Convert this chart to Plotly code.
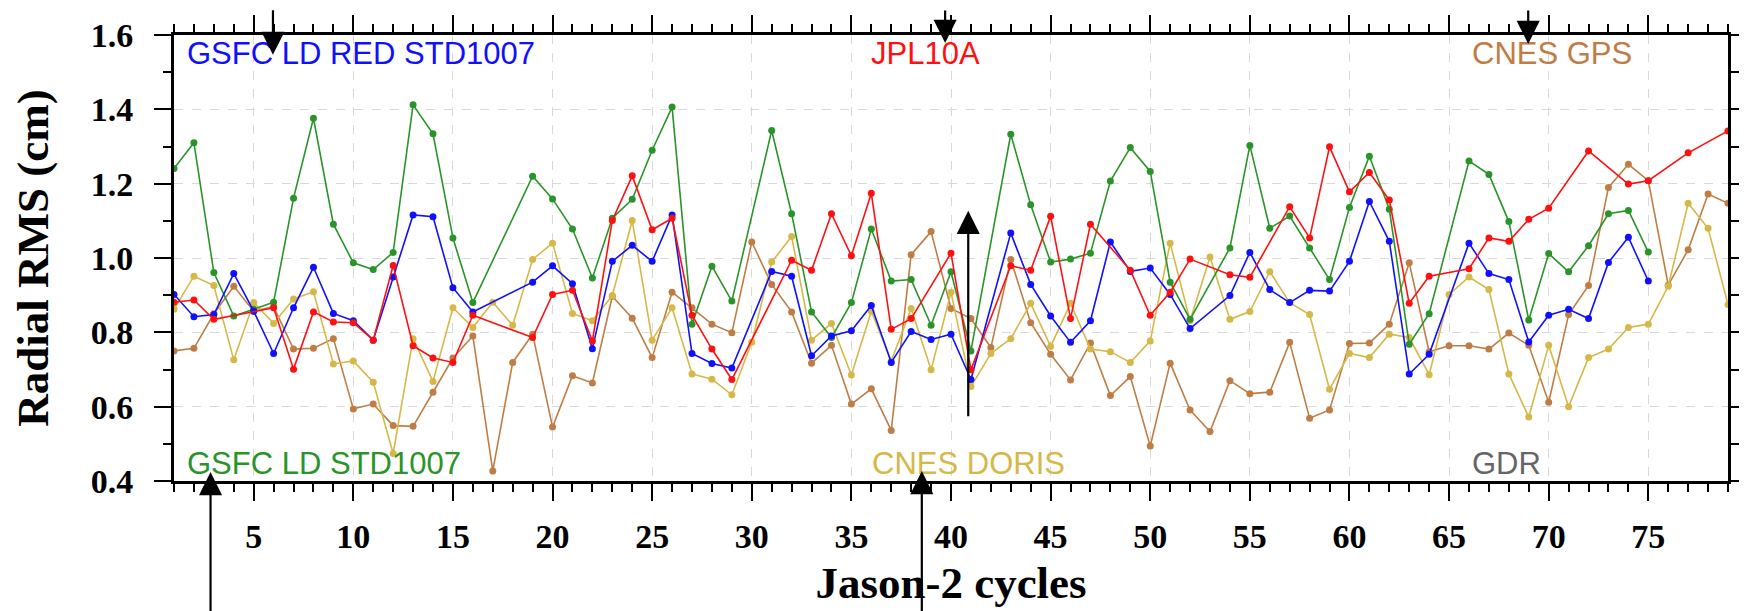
import plotly.graph_objects as go

cycles = list(range(1, 80))

# GSFC LD STD1007 (green)
gsfc_ld = [1.241, 1.310, 0.961, 0.844, 0.862, 0.881, 1.161, 1.376, 1.091, 0.987,
           0.969, 1.015, 1.412, 1.334, 1.054, 0.880, None, None, 1.220, 1.159,
           1.078, 0.946, 1.107, 1.158, 1.290, 1.406, 0.822, 0.978, 0.884, None,
           1.343, 1.119, 0.855, 0.786, 0.880, 1.078, 0.938, 0.942, 0.819, 0.963,
           0.750, None, 1.333, 1.143, 0.989, 0.997, 1.013, 1.207, 1.297, 1.233,
           0.935, 0.835, None, 1.027, 1.303, 1.080, 1.113, 1.027, 0.942, 1.136,
           1.274, 1.131, 0.768, 0.850, None, 1.261, 1.225, 1.098, 0.833, 1.012,
           0.963, 1.033, 1.119, 1.128, 1.016, None, None, None, None]

# GSFC LD RED STD1007 (blue)
gsfc_ld_red = [0.902, 0.842, 0.848, 0.958, 0.857, 0.743, 0.866, 0.975, 0.851, 0.831,
               0.779, 0.949, 1.116, 1.111, 0.920, 0.855, None, None, 0.935, 0.979,
               0.931, 0.756, 0.991, 1.034, 0.991, 1.116, 0.743, 0.716, 0.704, None,
               0.964, 0.951, 0.737, 0.790, 0.804, 0.872, 0.719, 0.802, 0.781, 0.795,
               0.673, None, 1.067, 0.929, 0.844, 0.773, 0.831, 1.043, 0.964, 0.973,
               0.902, 0.810, None, 0.899, 1.015, 0.915, 0.880, 0.913, 0.911, 0.991,
               1.152, 1.045, 0.688, 0.741, None, 1.040, 0.958, 0.942, 0.774, 0.846,
               0.862, 0.837, 0.988, 1.056, 0.938, None, None, None, None]

# JPL10A (red)
jpl10a = [0.881, 0.887, 0.835, None, None, 0.866, 0.701, 0.855, 0.828, 0.826,
          0.779, 0.980, 0.764, 0.731, 0.719, 0.846, None, None, 0.786, 0.902,
          0.913, 0.777, 1.101, 1.221, 1.076, 1.107, 0.846, 0.755, 0.673, None,
          None, 0.994, 0.967, 1.119, 1.006, 1.174, 0.808, 0.837, None, 1.013,
          0.699, None, 0.979, 0.967, 1.112, 0.837, 1.091, None, 0.967, 0.846,
          0.908, 0.997, None, 0.955, 0.948, None, 1.138, 1.054, 1.299, 1.178,
          1.230, 1.156, 0.878, 0.951, None, 0.971, 1.054, 1.045, 1.104, 1.134,
          None, 1.288, None, 1.199, 1.208, None, 1.283, None, 1.342]

# CNES DORIS (yellow)
cnes_doris = [0.862, 0.951, 0.926, 0.726, 0.880, 0.824, 0.890, 0.909, 0.715, 0.723,
              0.666, 0.474, 0.783, 0.668, 0.866, 0.813, 0.881, 0.819, 0.996, 1.040,
              0.851, 0.831, 0.899, 1.101, 0.779, 0.866, 0.688, 0.674, 0.632, 0.773,
              0.989, 1.058, 0.779, 0.824, 0.685, 0.857, 0.723, 0.864, 0.699, 0.908,
              0.654, 0.743, 0.783, 0.878, 0.762, 0.878, 0.755, 0.748, 0.719, 0.777,
              1.040, 0.831, 1.003, 0.835, 0.856, 0.963, 0.880, 0.848, 0.647, 0.743,
              0.732, 0.795, 0.786, 0.686, 0.902, 0.949, 0.915, 0.688, 0.572, 0.765,
              0.600, 0.732, 0.755, 0.813, 0.822, 0.924, 1.147, 1.080, 0.875]

# CNES GPS (brown)
cnes_gps = [0.750, 0.757, 0.850, 0.924, 0.857, 0.869, 0.755, 0.757, 0.783, 0.594,
            0.607, 0.549, 0.547, 0.639, 0.731, 0.790, 0.427, 0.719, 0.795, 0.545,
            0.683, 0.664, 0.897, 0.838, 0.732, 0.908, 0.866, 0.822, 0.799, 1.043,
            0.929, 0.855, 0.717, 0.765, 0.607, 0.648, 0.536, 1.009, 1.071, 0.864,
            0.837, 0.759, 0.996, 0.826, 0.741, 0.672, 0.771, 0.630, 0.681, 0.494,
            0.717, 0.591, 0.533, 0.670, 0.635, 0.639, 0.773, 0.569, 0.591, 0.770,
            0.771, 0.822, 0.987, 0.748, 0.764, 0.764, 0.755, 0.798, 0.765, 0.612,
            0.848, 0.926, 1.190, 1.252, 1.208, 0.927, 1.022, 1.172, 1.147]

series_names = ["CNES GPS", "CNES DORIS", "GSFC LD STD1007", "GSFC LD RED STD1007", "JPL10A"]
series_values = [cnes_gps, cnes_doris, gsfc_ld, gsfc_ld_red, jpl10a]
series_colors = ["#BF7D45", "#D6B848", "#2A942A", "#1010FF", "#FF1010"]

fig = go.Figure()
for name, vals, col in zip(series_names, series_values, series_colors):
    fig.add_trace(go.Scatter(
        x=cycles, y=vals, name=name, mode="lines+markers", connectgaps=True,
        line=dict(color=col, width=1.6),
        marker=dict(color=col, size=7),
        cliponaxis=True,
    ))

# Labels inside the plot
labels = [
    ("GSFC LD RED STD1007", 0.007, 0.958, "#1010FF"),
    ("JPL10A", 0.447, 0.958, "#FF1010"),
    ("CNES GPS", 0.834, 0.958, "#BF7D45"),
    ("GSFC LD STD1007", 0.007, 0.040, "#2A942A"),
    ("CNES DORIS", 0.448, 0.040, "#D6B848"),
    ("GDR", 0.834, 0.040, "#666666"),
]
annotations = []
for txt, xp, yp, col in labels:
    annotations.append(dict(
        text=txt, x=xp, y=yp, xref="paper", yref="paper",
        xanchor="left", yanchor="middle", showarrow=False,
        font=dict(family="Liberation Sans, Arial, sans-serif", size=31, color=col),
    ))

# Arrows (tip in paper coords, tail offset in px)
L, W, T, H = 166.5, 1573.5, 24.0, 449.0
arrows = [
    (266.7, 44, -46), (947.3, 32, -34), (1537.7, 33, -35),
    (970.7, 201, 207), (203.5, 464, 150), (923.7, 463, 150),
]
for ax_px, tip_y, ay in arrows:
    annotations.append(dict(
        text="", x=(ax_px - L) / W, y=1 - (tip_y - T) / H,
        xref="paper", yref="paper", showarrow=True,
        ax=0, ay=ay, arrowhead=2, arrowsize=2.1, arrowwidth=2.2,
        arrowcolor="black", standoff=0, startstandoff=0,
    ))

tick_font = dict(family="Liberation Serif, Times New Roman, serif", size=34, color="black", weight="bold")
title_font = dict(family="Liberation Serif, Times New Roman, serif", size=45, color="black", weight="bold")

fig.update_layout(
    width=1747, height=611,
    margin=dict(l=166, r=7, t=24, b=138),
    paper_bgcolor="white", plot_bgcolor="white",
    showlegend=False,
    annotations=annotations,
    xaxis=dict(
        range=[1, 79], tick0=0, dtick=5,
        showline=True, linecolor="black", linewidth=3, mirror="ticks",
        ticks="outside", ticklen=17, tickwidth=2, tickcolor="black",
        minor=dict(dtick=1, ticks="outside", ticklen=8, tickwidth=2, tickcolor="black", showgrid=False),
        showgrid=True, gridcolor="#d9d9d9", griddash="dash", gridwidth=1,
        zeroline=False,
        tickfont=tick_font, ticklabelstandoff=6,
        title=dict(text="Jason-2 cycles", font=title_font, standoff=13),
    ),
    yaxis=dict(
        range=[0.4, 1.6], tick0=0.4, dtick=0.2, tickformat=".1f",
        showline=True, linecolor="black", linewidth=3, mirror="ticks",
        ticks="outside", ticklen=17, tickwidth=2, tickcolor="black",
        minor=dict(dtick=0.1, ticks="outside", ticklen=8, tickwidth=2, tickcolor="black", showgrid=False),
        showgrid=True, gridcolor="#d9d9d9", griddash="dash", gridwidth=1,
        zeroline=False,
        tickfont=tick_font, ticklabelstandoff=14,
        title=dict(text="Radial RMS (cm)", font=title_font, standoff=32),
    ),
)

fig.write_html("out.html")
